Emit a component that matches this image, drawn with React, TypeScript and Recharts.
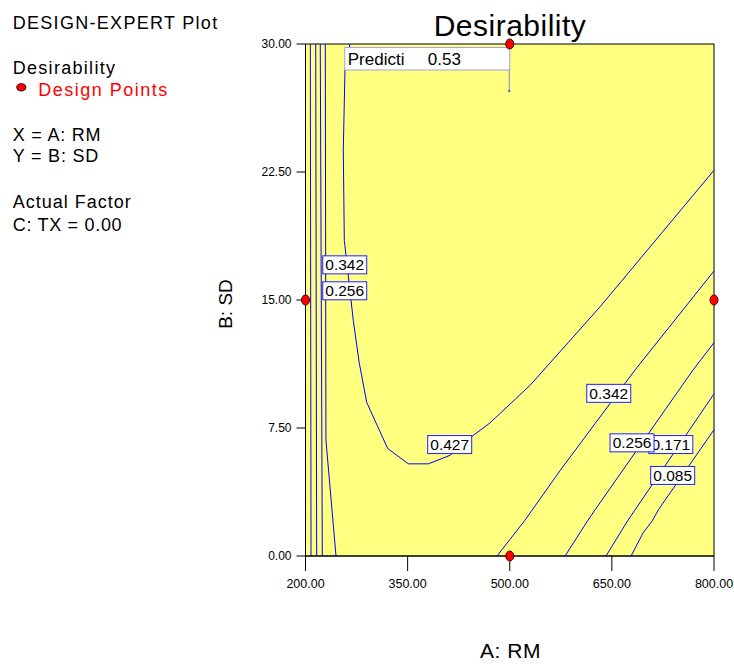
import React from 'react';
import { ComposedChart, Line, Scatter, XAxis, YAxis, ReferenceArea } from 'recharts';

const FONT = '"Liberation Sans", Arial, sans-serif';

const xTicks = [200, 350, 500, 650, 800];
const yTicks = [0, 7.5, 15, 22.5, 30];

const contour085Left = [{ x: 207.1, y: 30 }, { x: 208.1, y: 0 }];
const contour171Left = [{ x: 215.0, y: 30 }, { x: 216.4, y: 0 }];
const contour256Left = [{ x: 221.7, y: 30 }, { x: 224.7, y: 0 }];
const contour342Left = [{ x: 229.1, y: 30 }, { x: 230.0, y: 6.8 }, { x: 244.8, y: 0 }];
const contour427 = [
  { x: 265.4, y: 30 }, { x: 258.0, y: 28.5 }, { x: 255.5, y: 23.8 }, { x: 257.0, y: 18.5 },
  { x: 270.2, y: 13.8 }, { x: 278.6, y: 11.4 }, { x: 289.9, y: 9.0 }, { x: 320.7, y: 6.3 },
  { x: 351.0, y: 5.4 }, { x: 380.4, y: 5.4 }, { x: 412.3, y: 5.9 }, { x: 444.1, y: 7.0 },
  { x: 471.0, y: 7.8 }, { x: 529.8, y: 10.0 }, { x: 632.6, y: 14.6 }, { x: 800, y: 22.6 },
];
const contour342Right = [{ x: 481.3, y: 0 }, { x: 522.4, y: 2.1 }, { x: 573.8, y: 5.0 }, { x: 684.0, y: 10.9 }, { x: 800, y: 16.7 }];
const contour256Right = [{ x: 581.2, y: 0 }, { x: 615.0, y: 2.1 }, { x: 625.2, y: 2.7 }, { x: 769.2, y: 10.9 }, { x: 800, y: 12.5 }];
const contour171Right = [{ x: 641.4, y: 0 }, { x: 673.7, y: 2.1 }, { x: 684.0, y: 2.7 }, { x: 800, y: 9.5 }];
const contour085Right = [{ x: 678.2, y: 0 }, { x: 695.8, y: 1.35 }, { x: 710.0, y: 2.1 }, { x: 718.2, y: 2.7 }, { x: 800, y: 7.4 }];

const contours = [
  contour085Left, contour171Left, contour256Left, contour342Left, contour427,
  contour342Right, contour256Right, contour171Right, contour085Right,
];

// contour label positions (data units) and texts; drawn in this order
const contourLabels = [
  { x: 257.6, y: 17.06, label: '0.342' },
  { x: 257.6, y: 15.54, label: '0.256' },
  { x: 411.8, y: 6.53, label: '0.427' },
  { x: 645.4, y: 9.53, label: '0.342' },
  { x: 736.6, y: 6.53, label: '0.171' },
  { x: 679.6, y: 6.63, label: '0.256' },
  { x: 739.3, y: 4.72, label: '0.085' },
];

const prediction = [{ x: 500, y: 30, label: 'Predicti', value: '0.53' }];

const designPoints = [
  { x: 200, y: 15 },
  { x: 500, y: 30 },
  { x: 500, y: 0 },
  { x: 800, y: 15 },
];

const fmt = (v: number) => v.toFixed(2);

const LabelBox = (props: any) => {
  const { cx, cy, payload } = props;
  if (cx == null || cy == null) return <g />;
  return (
    <g>
      <rect x={cx - 22} y={cy - 9} width={44} height={18} fill="#ffffff" stroke="#2020ff" strokeWidth={1} />
      <text x={cx} y={cy + 5.5} textAnchor="middle" fontSize={15.5} fontFamily={FONT} fill="#000">
        {payload.label}
      </text>
    </g>
  );
};

const PredictionBox = (props: any) => {
  const { cx, cy, payload } = props;
  if (cx == null || cy == null) return <g />;
  return (
    <g>
      <rect x={cx - 165} y={cy + 3.5} width={165} height={22.5} fill="#ffffff" stroke="#a0a0f0" strokeWidth={1} />
      <text x={cx - 162} y={cy + 21} fontSize={17} fontFamily={FONT} fill="#000">{payload.label}</text>
      <text x={cx - 82} y={cy + 21} fontSize={17} fontFamily={FONT} fill="#000">{payload.value}</text>
      <line x1={cx - 0.5} y1={cy + 26} x2={cx - 0.5} y2={cy + 47} stroke="#8080e0" strokeWidth={1} />
      <circle cx={cx - 0.5} cy={cy + 47} r={1.2} fill="#6060d0" />
    </g>
  );
};

const DesignDot = (props: any) => {
  const { cx, cy } = props;
  if (cx == null || cy == null) return <g />;
  return <ellipse cx={cx} cy={cy} rx={4} ry={5} fill="#ff0000" stroke="#500000" strokeWidth={1} />;
};

export default function App() {
  return (
    <div style={{ position: 'absolute', left: 0, top: 0, width: 734, height: 664, background: '#fff' }}>
      <ComposedChart
        width={734}
        height={664}
        margin={{ top: 44, right: 20, bottom: 68, left: 245.5 }}
      >
        <XAxis
          type="number"
          dataKey="x"
          domain={[200, 800]}
          ticks={xTicks}
          tickFormatter={fmt}
          height={40}
          tickSize={15}
          tickMargin={8}
          stroke="#000"
          tick={{ fill: '#000', fontSize: 12.5, fontFamily: FONT }}
        />
        <YAxis
          type="number"
          dataKey="y"
          domain={[0, 30]}
          ticks={yTicks}
          tickFormatter={fmt}
          width={60}
          tickSize={9}
          tickMargin={5}
          stroke="#000"
          tick={{ fill: '#000', fontSize: 12, fontFamily: FONT }}
        />
        <ReferenceArea x1={200} x2={800} y1={0} y2={30} fill="#ffff80" fillOpacity={1} stroke="#000" strokeWidth={1} />
        {contours.map((c, i) => (
          <Line
            key={'c' + i}
            data={c}
            dataKey="y"
            type="linear"
            stroke="#0000ff"
            strokeWidth={1}
            dot={false}
            activeDot={false}
            isAnimationActive={false}
          />
        ))}
        <Scatter data={contourLabels} dataKey="y" shape={LabelBox} isAnimationActive={false} />
        <Scatter data={prediction} dataKey="y" shape={PredictionBox} isAnimationActive={false} />
        <Scatter data={designPoints} dataKey="y" shape={DesignDot} isAnimationActive={false} />
      </ComposedChart>
      <svg
        width={734}
        height={664}
        style={{ position: 'absolute', left: 0, top: 0, pointerEvents: 'none' }}
      >
        <g fontFamily={FONT} fontSize={18} fill="#000" letterSpacing={1}>
          <text x={12.7} y={29.3} letterSpacing={1.3}>DESIGN-EXPERT Plot</text>
          <text x={12.7} y={74} letterSpacing={1.3}>Desirability</text>
          <text x={38.3} y={95.7} fill="#ff0000" letterSpacing={1.5}>Design Points</text>
          <text x={12.7} y={141} letterSpacing={0.8}>X = A: RM</text>
          <text x={12.7} y={162} letterSpacing={0.8}>Y = B: SD</text>
          <text x={12.7} y={207.5}>Actual Factor</text>
          <text x={12.7} y={230.7} letterSpacing={0.7}>C: TX = 0.00</text>
        </g>
        <ellipse cx={21.3} cy={87.3} rx={4.5} ry={3.6} fill="#ff0000" stroke="#300000" strokeWidth={1} />
        <text x={510} y={35.7} textAnchor="middle" fontFamily={FONT} fontSize={30} letterSpacing={0.5} fill="#000">
          Desirability
        </text>
        <text x={510.5} y={658} textAnchor="middle" fontFamily={FONT} fontSize={21} letterSpacing={0.5} fill="#000">
          A: RM
        </text>
        <text
          x={0}
          y={0}
          transform="translate(231.5 304) rotate(-90)"
          textAnchor="middle"
          fontFamily={FONT}
          fontSize={19}
          fill="#000"
        >
          B: SD
        </text>
      </svg>
    </div>
  );
}
